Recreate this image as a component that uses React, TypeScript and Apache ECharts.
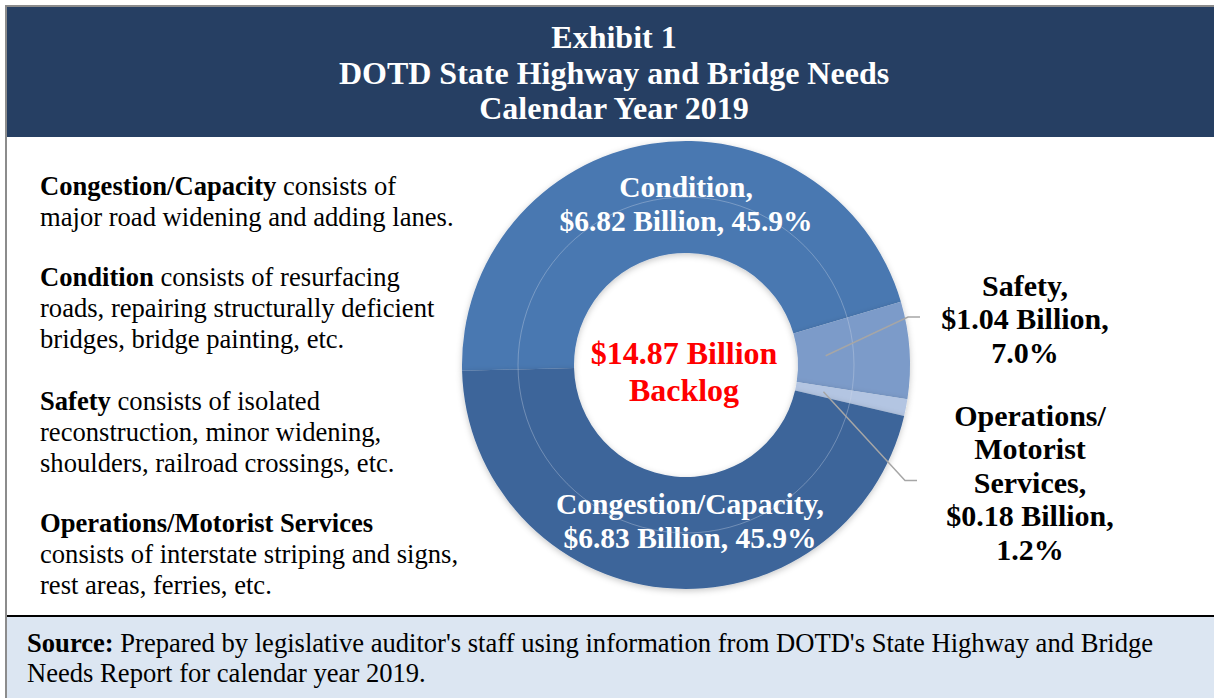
import React, { useEffect, useRef } from "react";
import * as echarts from "echarts";

// ---- data ----
const categories = ["Condition", "Safety", "Operations/Motorist Services", "Congestion/Capacity"];
const labelNames = ["Condition", "Safety", "Operations/\nMotorist\nServices", "Congestion/Capacity"];
const valuesBillion = [6.82, 1.04, 0.18, 6.83];
const insideLabel = [true, false, false, true];
const sliceColors = ["#4a78b1", "#7b9bc9", "#b3c5e2", "#3d659a"];
const titleLines = ["Exhibit 1", "DOTD State Highway and Bridge Needs", "Calendar Year 2019"];
const descTerms = ["Congestion/Capacity", "Condition", "Safety", "Operations/Motorist Services"];
const descRest = [
  " consists of\nmajor road widening and adding lanes.",
  " consists of resurfacing\nroads, repairing structurally deficient\nbridges, bridge painting, etc.",
  " consists of isolated\nreconstruction, minor widening,\nshoulders, railroad crossings, etc.",
  "\nconsists of interstate striping and signs,\nrest areas, ferries, etc.",
];
const sourceTerm = "Source:";
const sourceRest =
  " Prepared by legislative auditor's staff using information from DOTD's State Highway and Bridge\nNeeds Report for calendar year 2019.";

// ---- layout ----
const W = 1214;
const H = 698;
const FONT = "'Liberation Serif', 'Times New Roman', serif";
const cx = 686;
const cy = 365;
const rIn = 112;
const rOut = 224;
const startAngle = 181.5;
const leaderStart = 140;
// label offsets from pie center: [dx, dy, elbowX, endX]
const labelOffsets: number[][] = [
  [0, -161],
  [339, -46.5, 222, 234],
  [344, 117, 219, 231],
  [4, 156],
];
const descTops = [170, 261, 385, 507];

const total = valuesBillion.reduce((a, b) => a + b, 0);

function pct(v: number) {
  return ((v / total) * 100).toFixed(1);
}

function midAngles(): number[] {
  const res: number[] = [];
  let acc = 0;
  valuesBillion.forEach((v) => {
    const a0 = startAngle - (acc / total) * 360;
    const a1 = startAngle - ((acc + v) / total) * 360;
    res.push((a0 + a1) / 2);
    acc += v;
  });
  return res;
}

function buildOption(): any {
  const graphic: any[] = [
    {
      type: "rect",
      z: 0,
      shape: { x: 6, y: 6, width: W + 20, height: H + 20 },
      style: { fill: "none", stroke: "#8c8c8c", lineWidth: 2 },
    },
    {
      type: "rect",
      z: 1,
      shape: { x: 7, y: 7, width: W, height: 130 },
      style: { fill: "#263f63" },
    },
    {
      type: "rect",
      z: 1,
      shape: { x: 7, y: 617, width: W, height: 90 },
      style: { fill: "#dce6f2" },
    },
    {
      type: "line",
      z: 2,
      shape: { x1: 7, y1: 616, x2: W, y2: 616 },
      style: { stroke: "#000", lineWidth: 2 },
    },
    {
      type: "text",
      z: 3,
      style: {
        text: titleLines.join("\n"),
        x: 614,
        y: 72.5,
        fill: "#ffffff",
        fontFamily: FONT,
        fontWeight: "bold",
        fontSize: 32,
        lineHeight: 35.5,
        align: "center",
        verticalAlign: "middle",
        textAlign: "center",
        textVerticalAlign: "middle",
      },
    },
    {
      type: "circle",
      z: 100,
      silent: true,
      shape: { cx, cy, r: (rIn + rOut) / 2 },
      style: { fill: "none", stroke: "rgba(210,218,232,0.35)", lineWidth: 1 },
    },
    {
      type: "text",
      z: 100,
      style: {
        text: `$${total.toFixed(2)} Billion\nBacklog`,
        x: 684,
        y: 371.5,
        fill: "#ff0000",
        fontFamily: FONT,
        fontWeight: "bold",
        fontSize: 32,
        lineHeight: 37,
        align: "center",
        verticalAlign: "middle",
        textAlign: "center",
        textVerticalAlign: "middle",
      },
    },
    {
      type: "text",
      z: 3,
      style: {
        text: `{b|${sourceTerm}}${sourceRest}`,
        x: 27,
        y: 628,
        fill: "#000",
        fontFamily: FONT,
        fontSize: 26.6,
        lineHeight: 30,
        align: "left",
        verticalAlign: "top",
        textAlign: "left",
        textVerticalAlign: "top",
        rich: {
          b: { fontFamily: FONT, fontSize: 26.6, fontWeight: "bold", lineHeight: 30, fill: "#000", color: "#000" },
        },
      },
    },
  ];

  descTerms.forEach((term, i) => {
    graphic.push({
      type: "text",
      z: 3,
      style: {
        text: `{b|${term}}${descRest[i]}`,
        x: 40,
        y: descTops[i],
        fill: "#000",
        fontFamily: FONT,
        fontSize: 26.6,
        lineHeight: 31,
        align: "left",
        verticalAlign: "top",
        textAlign: "left",
        textVerticalAlign: "top",
        rich: {
          b: { fontFamily: FONT, fontSize: 26.6, fontWeight: "bold", lineHeight: 31, fill: "#000", color: "#000" },
        },
      },
    });
  });

  // leader lines from inside the slices to the outside labels
  const mids = midAngles();
  labelOffsets.forEach((off, i) => {
    if (off.length < 4) return;
    const a = (mids[i] * Math.PI) / 180;
    const sx = cx + leaderStart * Math.cos(a);
    const sy = cy - leaderStart * Math.sin(a);
    const ly = cy + off[1] - 1.5;
    graphic.push({
      type: "polyline",
      z: 100,
      silent: true,
      shape: { points: [[sx, sy], [cx + off[2], ly], [cx + off[3], ly]] },
      style: { fill: "none", stroke: "#a6a6a6", lineWidth: 1.5 },
    });
  });

  return {
    animation: false,
    backgroundColor: "#ffffff",
    graphic,
    series: [
      {
        type: "pie",
        center: [cx, cy],
        radius: [rIn, rOut],
        startAngle,
        clockwise: true,
        avoidLabelOverlap: false,
        silent: true,
        z: 5,
        itemStyle: {
          shadowBlur: 6,
          shadowColor: "rgba(0,0,0,0.22)",
          shadowOffsetY: 2,
        },
        label: {
          show: true,
          position: "outside",
          fontFamily: FONT,
          fontWeight: "bold",
          fontSize: 29.5,
          lineHeight: 33.5,
          formatter: (p: any) => {
            const i = p.dataIndex;
            const v = valuesBillion[i].toFixed(2);
            return insideLabel[i]
              ? `${labelNames[i]},\n$${v} Billion, ${pct(valuesBillion[i])}%`
              : `${labelNames[i]},\n$${v} Billion,\n${pct(valuesBillion[i])}%`;
          },
        },
        labelLine: { show: false },
        labelLayout: (params: any) => {
          const off = labelOffsets[params.dataIndex];
          const big = !insideLabel[params.dataIndex];
          return {
            x: cx + off[0],
            y: cy + off[1],
            align: "center",
            verticalAlign: "middle",
            fontSize: big ? 30 : 29.5,
          };
        },
        data: categories.map((name, i) => ({
          name,
          value: valuesBillion[i],
          itemStyle: { color: sliceColors[i] },
          label: { color: insideLabel[i] ? "#ffffff" : "#000000" },
        })),
      },
    ],
  };
}

export default function App() {
  const ref = useRef<HTMLDivElement>(null);
  useEffect(() => {
    if (!ref.current) return;
    const chart = echarts.init(ref.current, undefined, { renderer: "svg", width: W, height: H });
    chart.setOption(buildOption());
    return () => chart.dispose();
  }, []);
  return (
    <div
      ref={ref}
      style={{ position: "fixed", left: 0, top: 0, width: W, height: H, background: "#fff" }}
    />
  );
}
